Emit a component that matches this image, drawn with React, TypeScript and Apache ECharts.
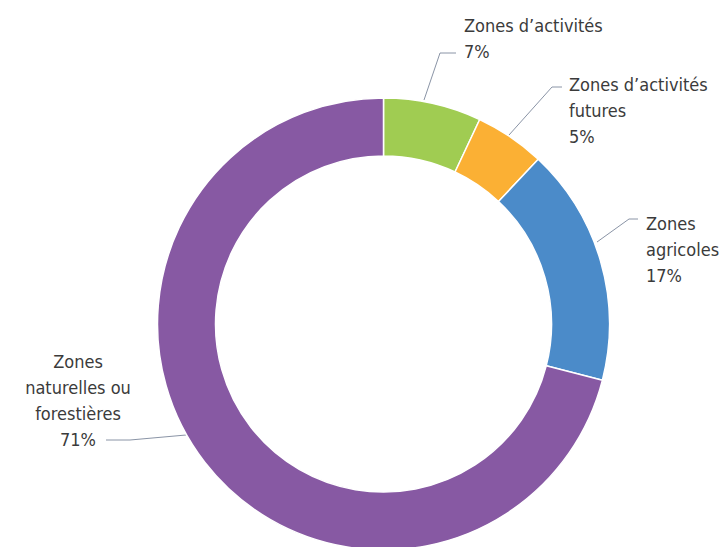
import React, { useEffect, useRef } from "react";
import * as echarts from "echarts";

const categories = [
  "Zones d’activités",
  "Zones d’activités\nfutures",
  "Zones\nagricoles",
  "Zones\nnaturelles ou\nforestières",
];
const values = [7, 5, 17, 71];
const colors = ["#A0CC52", "#FBB034", "#4B8BC9", "#8759A3"];

// label anchor (x, top y, align) and leader line points for each slice label
const labelAnchors: [number, number, "left" | "center"][] = [
  [464, 12, "left"],
  [569, 71, "left"],
  [646, 210, "left"],
  [78, 348, "center"],
];
const leaderLines: number[][][] = [
  [[424, 100], [440, 53], [456, 53]],
  [[509, 135], [552, 87], [562, 87]],
  [[597, 242], [629, 219], [638, 219]],
  [[186, 435], [130, 440], [106, 440]],
];

export default function App() {
  const ref = useRef<HTMLDivElement>(null);
  useEffect(() => {
    if (!ref.current) return;
    const chart = echarts.init(ref.current, undefined, { renderer: "svg" });
    chart.setOption({
      animation: false,
      backgroundColor: "#ffffff",
      series: [
        {
          type: "pie",
          center: [383.5, 324],
          radius: [168, 226],
          startAngle: 90,
          clockwise: true,
          avoidLabelOverlap: false,
          itemStyle: { borderColor: "#ffffff", borderWidth: 1.5 },
          emphasis: { disabled: true },
          label: {
            show: true,
            position: "outside",
            formatter: (p: any) => `${p.name}\n${p.value}%`,
            fontFamily: "'DejaVu Sans Condensed', 'Liberation Sans Narrow', sans-serif",
            fontSize: 18,
            lineHeight: 26,
            color: "#3b3b3b",
            width: 220,
            overflow: "none",
          },
          labelLine: {
            show: true,
            lineStyle: { color: "#8a94a6", width: 1 },
          },
          labelLayout: (params: any) => {
            const i = params.dataIndex;
            const [x, y, align] = labelAnchors[i];
            return {
              x,
              y,
              align,
              verticalAlign: "top",
              labelLinePoints: leaderLines[i],
            };
          },
          data: categories.map((name, i) => ({
            name,
            value: values[i],
            itemStyle: { color: colors[i] },
          })),
        },
      ],
    });
    return () => chart.dispose();
  }, []);
  return (
    <div
      ref={ref}
      style={{ position: "fixed", left: 0, top: 0, width: 721, height: 547 }}
    />
  );
}
